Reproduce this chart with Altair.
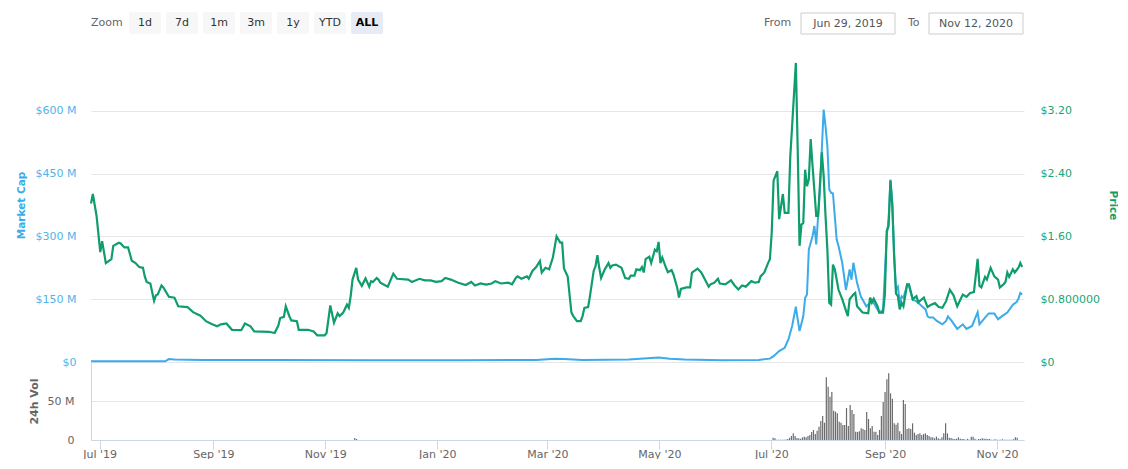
import altair as alt
import pandas as pd

# ---------------- data ----------------
START = "2019-06-29"
END = "2020-11-13"

# (day index since 2019-06-29, price in USD)
price_points = [
    (0, 2.02), (1, 2.14), (3, 1.86), (5, 1.40), (6, 1.54), (8, 1.26), (11, 1.31), (12, 1.48),
    (15, 1.52), (16, 1.51), (18, 1.46), (20, 1.46), (22, 1.29), (24, 1.26), (26, 1.21), (28, 1.20),
    (29, 1.09), (30, 1.02), (32, 1.00), (34, 0.78), (35, 0.85), (36, 0.86), (38, 0.975), (39, 0.95),
    (42, 0.83), (45, 0.82), (47, 0.71), (52, 0.70), (55, 0.635), (59, 0.59), (62, 0.52), (65, 0.485),
    (68, 0.455), (70, 0.48), (73, 0.49), (76, 0.41), (81, 0.405), (83, 0.49), (86, 0.455), (88, 0.39),
    (96, 0.385), (99, 0.37), (101, 0.465), (102, 0.56), (104, 0.575), (105, 0.71), (107, 0.58),
    (108, 0.53), (111, 0.52), (112, 0.41), (117, 0.41), (120, 0.39), (122, 0.34), (126, 0.34),
    (127, 0.37), (129, 0.72), (131, 0.50), (133, 0.62), (134, 0.585), (136, 0.63), (138, 0.73),
    (139, 0.69), (140, 0.84), (141, 1.05), (143, 1.20), (144, 1.05), (146, 0.97), (148, 1.065),
    (150, 0.96), (151, 1.03), (152, 1.02), (154, 1.07), (155, 1.05), (156, 1.01), (160, 0.96),
    (163, 1.125), (165, 1.06), (171, 1.05), (173, 1.02), (177, 1.06), (180, 1.04), (183, 1.04),
    (186, 1.02), (189, 1.03), (191, 1.07), (194, 1.05), (198, 1.01), (202, 0.98), (205, 1.02),
    (207, 0.975), (210, 1.00), (213, 0.985), (216, 1.00), (218, 1.03), (221, 1.00), (225, 1.01),
    (227, 0.99), (229, 1.07), (230, 1.09), (232, 1.06), (235, 1.09), (236, 1.06), (238, 1.16),
    (240, 1.21), (242, 1.285), (243, 1.14), (245, 1.20), (247, 1.18), (249, 1.33), (251, 1.60),
    (253, 1.52), (254, 1.52), (255, 1.19), (257, 1.09), (259, 0.63), (260, 0.585), (262, 0.52),
    (264, 0.52), (265, 0.585), (266, 0.69), (268, 0.70), (269, 0.84), (271, 1.16), (272, 1.22),
    (273, 1.36), (274, 1.20), (275, 1.07), (277, 1.18), (279, 1.26), (280, 1.20), (281, 1.23),
    (283, 1.24), (286, 1.20), (288, 1.07), (290, 1.06), (291, 1.10), (293, 1.10), (294, 1.18),
    (296, 1.17), (297, 1.21), (298, 1.14), (299, 1.31), (301, 1.34), (302, 1.26), (304, 1.43),
    (305, 1.41), (306, 1.53), (307, 1.26), (308, 1.33), (310, 1.20), (311, 1.145), (313, 1.17),
    (314, 1.115), (316, 0.95), (317, 0.82), (318, 0.93), (321, 0.95), (323, 0.95), (324, 1.14),
    (327, 1.19), (329, 1.14), (331, 1.05), (333, 0.96), (334, 0.99), (336, 1.01), (338, 1.06),
    (339, 1.00), (342, 0.99), (345, 1.04), (347, 0.975), (349, 0.925), (351, 0.975), (353, 0.96),
    (356, 1.03), (358, 1.01), (360, 1.02), (361, 1.09), (363, 1.14), (364, 1.20), (365, 1.26),
    (366, 1.31), (367, 1.65), (368, 2.31), (370, 2.43), (371, 1.82), (373, 2.14), (374, 1.90),
    (376, 1.90), (377, 2.62), (378, 3.01), (380, 3.81), (381, 2.71), (382, 1.48), (383, 1.75),
    (384, 1.77), (385, 2.45), (386, 2.24), (387, 2.33), (388, 2.84), (389, 2.50), (391, 1.86),
    (392, 1.86), (394, 2.67), (395, 2.37), (396, 1.86), (397, 1.43), (398, 0.755), (399, 0.73),
    (400, 1.24), (401, 1.18), (403, 0.92), (405, 0.80), (408, 0.585), (409, 0.80), (411, 0.86),
    (412, 0.88), (413, 0.71), (416, 0.63), (419, 0.62), (420, 0.82), (421, 0.755), (422, 0.805),
    (424, 0.71), (425, 0.63), (427, 0.63), (428, 0.86), (429, 1.67), (430, 1.73), (431, 2.31),
    (432, 1.99), (433, 1.35), (434, 0.87), (435, 0.84), (436, 0.67), (437, 0.755), (438, 0.71),
    (440, 0.99), (441, 0.99), (443, 0.80), (445, 0.84), (446, 0.76), (449, 0.82), (451, 0.70),
    (453, 0.73), (455, 0.75), (457, 0.70), (459, 0.69), (461, 0.775), (463, 0.92), (465, 0.85),
    (467, 0.71), (470, 0.86), (472, 0.83), (474, 0.88), (476, 0.89), (478, 1.315), (479, 0.97),
    (480, 0.95), (482, 1.085), (483, 1.05), (485, 1.20), (487, 1.09), (489, 1.05), (490, 0.95),
    (492, 0.99), (493, 1.02), (494, 1.14), (495, 1.085), (497, 1.18), (498, 1.14), (500, 1.20),
    (501, 1.26), (502, 1.21),
]

# (day index since 2019-06-29, market cap in millions of USD)
mcap_points = [
    (0, 1.5), (40, 1.5), (42, 7), (45, 6), (60, 5), (100, 4.5), (150, 4), (200, 4), (240, 5),
    (250, 8), (255, 7), (265, 5), (290, 6), (300, 9), (306, 11), (312, 8), (320, 6), (340, 4),
    (360, 5), (366, 8), (368, 14), (371, 26), (374, 34), (376, 54), (378, 86), (380, 132),
    (381, 102), (382, 74), (384, 109), (385, 153), (386, 161), (387, 269), (389, 301), (390, 325),
    (391, 281), (392, 348), (393, 412), (394, 508), (395, 603), (396, 563), (397, 516), (398, 412),
    (399, 404), (400, 403), (401, 348), (402, 293), (403, 277), (405, 237), (406, 205), (407, 172),
    (409, 221), (410, 197), (411, 237), (413, 189), (415, 157), (418, 133), (420, 141), (421, 149),
    (423, 133), (425, 118), (427, 125), (429, 301), (430, 341), (431, 436), (432, 380), (433, 253),
    (434, 173), (435, 180), (436, 141), (437, 157), (438, 153), (440, 185), (441, 181), (443, 149),
    (445, 145), (448, 133), (450, 125), (451, 109), (452, 106), (454, 106), (456, 98), (459, 90),
    (461, 98), (462, 109), (464, 98), (467, 79), (470, 90), (472, 79), (475, 86), (478, 119),
    (479, 90), (482, 106), (484, 116), (487, 116), (489, 102), (491, 109), (494, 118), (497, 137),
    (499, 143), (500, 151), (501, 165), (502, 161),
]

# daily 24h volume (millions of USD), starting 2020-07-02
vol_start = "2020-07-02"
vol_musd = [
    3.0, 2.1, 0.3, 0.3, 0.3, 0.3, 0.3, 0.5, 1.3, 3.0, 5.1, 8.5, 5.1, 2.6, 2.1, 1.7, 3.4, 4.3,
    3.4, 5.1, 6.4, 10.3, 12.8, 7.7, 12.0, 17.1, 24.4, 30.8, 22.2, 80.4, 68.4, 55.6, 61.5, 37.6,
    36.3, 34.2, 23.5, 22.2, 19.2, 19.2, 41.0, 17.9, 44.9, 38.5, 33.3, 10.7, 10.3, 11.1, 15.0,
    14.1, 12.8, 35.9, 26.9, 15.0, 17.9, 10.7, 10.7, 6.4, 12.8, 30.8, 48.7, 61.5, 77.8, 85.5,
    59.8, 53.0, 21.4, 19.7, 22.2, 11.1, 7.7, 51.3, 46.2, 14.1, 15.0, 14.1, 21.4, 9.4, 6.4, 7.7,
    8.5, 6.4, 7.7, 8.5, 6.4, 5.1, 3.4, 3.4, 2.1, 4.3, 2.1, 1.3, 3.4, 8.5, 21.4, 8.5, 3.0, 2.6,
    1.7, 1.3, 1.7, 3.4, 1.7, 1.3, 1.3, 0.4, 1.7, 0.4, 4.3, 4.3, 1.7, 0.4, 1.3, 1.3, 2.1, 1.7,
    1.7, 1.3, 1.3, 0.3, 0.3, 0.9, 0.3, 0.3, 0.3, 0.9, 0.3, 0.3, 0.3, 0.3, 0.3, 0.9, 3.4, 3.0,
]
vol_early_dates = ["2019-11-17", "2019-11-18"]
vol_early_musd = [2.6, 1.3]

x_tick_dates = ["2019-07-01", "2019-09-01", "2019-11-01", "2020-01-01", "2020-03-01",
                "2020-05-01", "2020-07-01", "2020-09-01", "2020-11-01"]
mcap_ticks = [0, 150e6, 300e6, 450e6, 600e6]
price_ticks = [0, 0.8, 1.6, 2.4, 3.2]
vol_ticks = [0, 50e6]

zoom_buttons = ["1d", "7d", "1m", "3m", "1y", "YTD", "ALL"]
selected_button = "ALL"
date_from = "Jun 29, 2019"
date_to = "Nov 12, 2020"

# ---------------- build tables ----------------
t0 = pd.Timestamp(START)
price_df = pd.DataFrame(price_points, columns=["day", "price"])
price_df["date"] = t0 + pd.to_timedelta(price_df["day"], unit="D")
mcap_df = pd.DataFrame(mcap_points, columns=["day", "mcap"])
mcap_df["mcap"] = mcap_df["mcap"] * 1e6
mcap_df["date"] = t0 + pd.to_timedelta(mcap_df["day"], unit="D")

vol_dates = list(pd.to_datetime(vol_early_dates)) + list(
    pd.date_range(vol_start, periods=len(vol_musd), freq="D"))
vol_df = pd.DataFrame({"date": vol_dates,
                       "vol": [v * 1e6 for v in vol_early_musd + vol_musd]})

# ---------------- style ----------------
FONT = "DejaVu Sans"
BLUE = "#3babea"
BLUE_TXT = "#4fb4ec"
GREEN = "#0f9d6b"
GREEN_TXT = "#1aa673"
GREY = "#666666"
PLOT_W = 933
TOP_H = 314
VOL_H = 78
HEAD_H = 48
NO_STROKE = alt.ViewBackground(stroke="transparent", strokeWidth=0)

def dt(s):
    t = pd.Timestamp(s)
    return alt.DateTime(year=t.year, month=t.month, date=t.day)

xscale = alt.Scale(domain=[dt(START), dt(END)])

# ---------------- header (range selector) ----------------
PLOT_LEFT = 92
btn_x0 = [130 + 37 * i for i in range(len(zoom_buttons))]
btn_df = pd.DataFrame({
    "label": zoom_buttons,
    "x1": [x - PLOT_LEFT for x in btn_x0],
    "x2": [x - PLOT_LEFT + 32 for x in btn_x0],
    "xc": [x - PLOT_LEFT + 16 for x in btn_x0],
    "sel": [b == selected_button for b in zoom_buttons],
})
btn_rect = alt.Chart(btn_df).mark_rect(cornerRadius=2).encode(
    x=alt.X("x1:Q", scale=None), x2="x2:Q",
    y=alt.value(12), y2=alt.value(34),
    color=alt.Color("sel:N", scale=alt.Scale(domain=[False, True], range=["#f7f7f7", "#e6ebf5"]),
                    legend=None),
)
btn_text = alt.Chart(btn_df).transform_filter("!datum.sel").mark_text(
    font=FONT, fontSize=11, baseline="middle", color="#333333").encode(
    x=alt.X("xc:Q", scale=None), y=alt.value(23), text="label:N")
btn_text_sel = alt.Chart(btn_df).transform_filter("datum.sel").mark_text(
    font=FONT, fontSize=11, baseline="middle", color="#000000", fontWeight="bold").encode(
    x=alt.X("xc:Q", scale=None), y=alt.value(23), text="label:N")
lab_df = pd.DataFrame({
    "label": ["Zoom", "From", "To"],
    "x": [92 - PLOT_LEFT, 765 - PLOT_LEFT, 909 - PLOT_LEFT],
})
lab_text = alt.Chart(lab_df).mark_text(font=FONT, fontSize=11, align="left", baseline="middle",
                                       color=GREY).encode(
    x=alt.X("x:Q", scale=None), y=alt.value(23), text="label:N")
box_df = pd.DataFrame({
    "label": [date_from, date_to],
    "x1": [802 - PLOT_LEFT, 930 - PLOT_LEFT],
    "x2": [896 - PLOT_LEFT, 1024 - PLOT_LEFT],
    "xc": [849 - PLOT_LEFT, 977 - PLOT_LEFT],
})
box_rect = alt.Chart(box_df).mark_rect(fill="white", stroke="#cccccc", strokeWidth=1).encode(
    x=alt.X("x1:Q", scale=None), x2="x2:Q", y=alt.value(13), y2=alt.value(34))
box_text = alt.Chart(box_df).mark_text(font=FONT, fontSize=11, baseline="middle",
                                       color="#555555").encode(
    x=alt.X("xc:Q", scale=None), y=alt.value(23.5), text="label:N")
header = alt.layer(btn_rect, btn_text, btn_text_sel, lab_text, box_rect, box_text).properties(
    width=PLOT_W, height=HEAD_H, view=NO_STROKE)

# ---------------- top panel ----------------
mcap_line = alt.Chart(mcap_df).mark_line(color=BLUE, strokeWidth=2).encode(
    x=alt.X("date:T", scale=xscale, axis=None),
    y=alt.Y("mcap:Q", scale=alt.Scale(domain=[0, 750e6], nice=False, zero=True),
            axis=alt.Axis(values=mcap_ticks, orient="left", title="Market Cap",
                          labelExpr="datum.value == 0 ? '$0' : '$' + format(datum.value / 1e6, 'd') + ' M'",
                          labelColor=BLUE_TXT, labelFontSize=11, labelFont=FONT, labelPadding=15,
                          titleColor=BLUE, titleFont=FONT, titleFontSize=10.5, titleFontWeight="bold",
                          titlePadding=9, grid=True, gridColor="#e6e6e6", domain=False, ticks=False)),
)
price_line = alt.Chart(price_df).mark_line(color=GREEN, strokeWidth=2.2).encode(
    x=alt.X("date:T", scale=xscale, axis=None),
    y=alt.Y("price:Q", scale=alt.Scale(domain=[0, 4.0], nice=False, zero=True),
            axis=alt.Axis(values=price_ticks, orient="right", title="Price",
                          labelExpr="datum.value == 0 ? '$0' : (datum.value == 0.8 ? '$0.800000' : '$' + format(datum.value, '.2f'))",
                          labelColor=GREEN_TXT, labelFontSize=11, labelFont=FONT, labelPadding=16,
                          titleColor=GREEN, titleFont=FONT, titleFontSize=10.5, titleFontWeight="bold",
                          titlePadding=8, grid=False, domain=False, ticks=False)),
)
top = alt.layer(mcap_line, price_line).resolve_scale(y="independent").properties(
    width=PLOT_W, height=TOP_H, view=NO_STROKE)

# ---------------- volume panel ----------------
vol = alt.Chart(vol_df).mark_bar(size=1.2, color="#6b6b6b").encode(
    x=alt.X("date:T", scale=xscale,
            axis=alt.Axis(values=[dt(d) for d in x_tick_dates], format="%b '%y", title=None,
                          labelColor=GREY, labelFontSize=11, labelFont=FONT, labelPadding=-1,
                          tickColor="#ccd6eb", tickSize=9, domainColor="#ccd6eb", grid=False,
                          labelFlush=False)),
    y=alt.Y("vol:Q", scale=alt.Scale(domain=[0, 100e6], nice=False),
            axis=alt.Axis(values=vol_ticks, title="24h Vol",
                          labelExpr="datum.value == 0 ? '0' : format(datum.value / 1e6, 'd') + ' M'",
                          labelColor=GREY, labelFontSize=11, labelFont=FONT, labelPadding=17,
                          titleColor=GREY, titleFont=FONT, titleFontSize=11, titleFontWeight="bold",
                          titlePadding=8, grid=True, gridColor="#e6e6e6", domain=True,
                          domainColor="#ccd6eb", ticks=False)),
).properties(width=PLOT_W, height=VOL_H, view=NO_STROKE)

chart = alt.vconcat(header, top, vol, spacing=0, bounds="flush").properties(
    padding={"left": 16, "top": 0, "right": 0, "bottom": 0}
).configure_view(stroke="transparent", strokeWidth=0).configure(font=FONT)

chart.save("out.html", embed_options={"renderer": "svg", "actions": False})
